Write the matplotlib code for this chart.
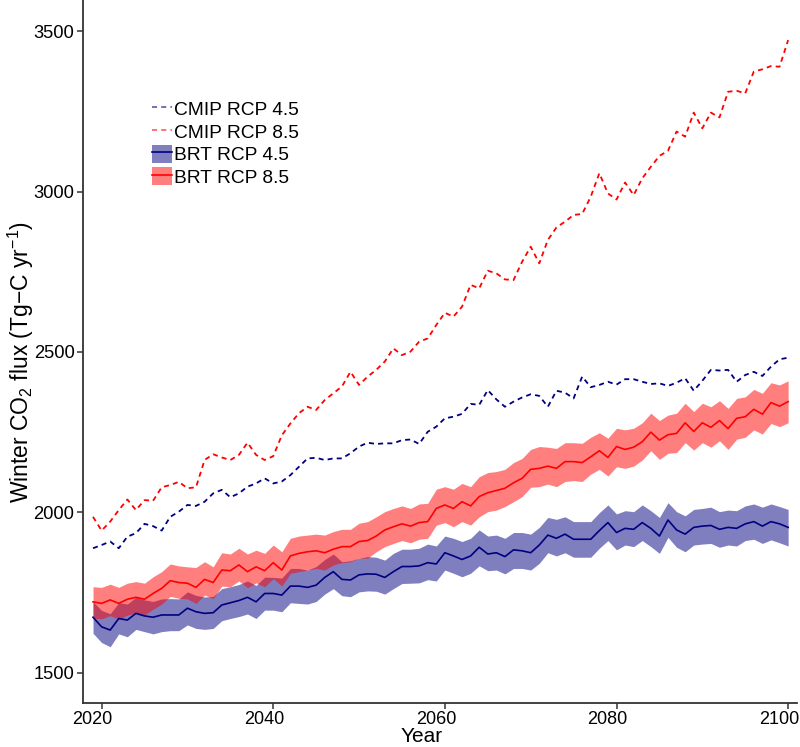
import matplotlib
matplotlib.use("Agg")
import matplotlib.pyplot as plt
from matplotlib.lines import Line2D
from matplotlib.patches import Patch
from matplotlib.transforms import ScaledTranslation

plt.rcParams.update({
    "font.family": ["Liberation Sans", "DejaVu Sans"],
    "mathtext.default": "regular",
    "axes.edgecolor": "#333333",
    "xtick.color": "#333333",
    "ytick.color": "#333333",
    "xtick.labelcolor": "black",
    "ytick.labelcolor": "black",
})

years = list(range(2019, 2101))
x_ticks = [2020, 2040, 2060, 2080, 2100]
y_ticks = [1500, 2000, 2500, 3000, 3500]

# CMIP projections (dashed)
cmip_45 = [1888, 1898, 1909, 1888, 1924, 1935, 1964, 1957, 1943, 1986,
           2002, 2023, 2020, 2033, 2059, 2070, 2047, 2059, 2080, 2090,
           2106, 2090, 2096, 2116, 2142, 2168, 2170, 2163, 2168, 2168,
           2184, 2205, 2217, 2213, 2215, 2215, 2225, 2227, 2213, 2251,
           2267, 2293, 2298, 2307, 2338, 2335, 2381, 2352, 2329, 2345,
           2358, 2368, 2363, 2329, 2379, 2373, 2355, 2423, 2390, 2397,
           2407, 2398, 2415, 2415, 2407, 2400, 2402, 2394, 2404, 2418,
           2379, 2410, 2444, 2442, 2444, 2407, 2428, 2438, 2425, 2454,
           2477, 2482]
cmip_85 = [1986, 1943, 1971, 2007, 2040, 2007, 2038, 2036, 2078, 2085,
           2095, 2075, 2078, 2163, 2181, 2171, 2163, 2179, 2217, 2179,
           2163, 2175, 2240, 2277, 2309, 2329, 2319, 2350, 2371, 2392,
           2438, 2397, 2423, 2444, 2470, 2511, 2490, 2501, 2532, 2542,
           2584, 2622, 2610, 2641, 2709, 2698, 2753, 2745, 2726, 2724,
           2781, 2828, 2776, 2849, 2888, 2906, 2927, 2930, 2984, 3057,
           2994, 2975, 3028, 2989, 3041, 3077, 3111, 3127, 3187, 3171,
           3246, 3197, 3246, 3231, 3311, 3314, 3306, 3374, 3381, 3391,
           3389, 3472]

# BRT projections: mean and ribbon
brt_45 = [1673, 1643, 1633, 1669, 1664, 1685, 1677, 1673, 1680, 1680,
          1680, 1701, 1690, 1685, 1687, 1711, 1718, 1725, 1735, 1721,
          1747, 1747, 1742, 1770, 1770, 1766, 1773, 1797, 1815, 1791,
          1789, 1805, 1808, 1807, 1797, 1815, 1831, 1831, 1833, 1843,
          1839, 1874, 1864, 1853, 1864, 1891, 1870, 1874, 1862, 1883,
          1880, 1874, 1898, 1929, 1919, 1932, 1916, 1916, 1916, 1943,
          1968, 1937, 1950, 1947, 1968, 1950, 1926, 1976, 1945, 1932,
          1953, 1957, 1959, 1947, 1953, 1950, 1964, 1971, 1957, 1971,
          1964, 1953]
brt_45_hi = [1722, 1694, 1684, 1718, 1714, 1735, 1727, 1722, 1730, 1731,
             1730, 1752, 1741, 1736, 1738, 1762, 1768, 1775, 1786, 1772,
             1798, 1797, 1795, 1825, 1825, 1820, 1831, 1853, 1870, 1846,
             1849, 1857, 1862, 1860, 1851, 1872, 1885, 1885, 1888, 1901,
             1895, 1926, 1919, 1909, 1919, 1945, 1926, 1929, 1919, 1937,
             1937, 1932, 1953, 1984, 1978, 1986, 1971, 1971, 1971, 1999,
             2023, 1995, 2005, 2002, 2023, 2005, 1984, 2030, 2002, 1989,
             2009, 2012, 2016, 2002, 2007, 2005, 2020, 2026, 2016, 2026,
             2018, 2009]
brt_45_lo = [1623, 1594, 1581, 1621, 1612, 1635, 1628, 1621, 1628, 1631,
             1631, 1649, 1638, 1635, 1638, 1662, 1669, 1675, 1683, 1669,
             1695, 1695, 1690, 1718, 1716, 1714, 1722, 1745, 1762, 1740,
             1737, 1752, 1755, 1754, 1745, 1762, 1778, 1779, 1780, 1790,
             1786, 1820, 1810, 1799, 1810, 1833, 1818, 1820, 1808, 1825,
             1825, 1820, 1841, 1874, 1864, 1874, 1860, 1860, 1860, 1888,
             1912, 1883, 1898, 1893, 1912, 1893, 1872, 1922, 1891, 1877,
             1898, 1901, 1903, 1891, 1898, 1895, 1912, 1916, 1903, 1914,
             1905, 1895]

brt_85 = [1721, 1716, 1727, 1716, 1729, 1735, 1729, 1747, 1763, 1787,
          1781, 1779, 1766, 1791, 1781, 1820, 1818, 1836, 1815, 1830,
          1818, 1843, 1820, 1864, 1872, 1877, 1880, 1874, 1885, 1893,
          1893, 1909, 1912, 1926, 1945, 1955, 1964, 1957, 1968, 1971,
          2012, 2023, 2012, 2033, 2020, 2049, 2061, 2068, 2075, 2092,
          2106, 2134, 2137, 2144, 2137, 2158, 2158, 2155, 2173, 2192,
          2171, 2205, 2196, 2203, 2220, 2250, 2225, 2242, 2246, 2279,
          2252, 2279, 2265, 2286, 2261, 2293, 2298, 2321, 2306, 2342,
          2331, 2345]
brt_85_hi = [1768, 1766, 1776, 1766, 1779, 1784, 1779, 1799, 1815, 1839,
             1833, 1830, 1828, 1846, 1830, 1874, 1870, 1888, 1870, 1882,
             1872, 1898, 1877, 1919, 1926, 1929, 1932, 1929, 1940, 1947,
             1947, 1966, 1971, 1986, 2002, 2012, 2020, 2012, 2026, 2028,
             2072, 2080, 2072, 2090, 2080, 2111, 2124, 2127, 2134, 2155,
             2168, 2196, 2205, 2203, 2199, 2217, 2217, 2215, 2234, 2248,
             2231, 2262, 2257, 2262, 2279, 2309, 2286, 2303, 2309, 2340,
             2314, 2340, 2329, 2348, 2324, 2355, 2360, 2383, 2371, 2404,
             2397, 2410]
brt_85_lo = [1670, 1668, 1678, 1667, 1680, 1686, 1680, 1698, 1714, 1738,
             1732, 1730, 1716, 1742, 1731, 1770, 1768, 1786, 1765, 1780,
             1768, 1793, 1770, 1810, 1815, 1820, 1825, 1820, 1836, 1843,
             1846, 1857, 1857, 1877, 1893, 1903, 1912, 1905, 1916, 1919,
             1960, 1968, 1955, 1971, 1960, 1986, 2002, 2007, 2018, 2033,
             2049, 2078, 2080, 2088, 2080, 2096, 2099, 2096, 2119, 2134,
             2113, 2142, 2137, 2144, 2163, 2192, 2165, 2184, 2186, 2217,
             2194, 2217, 2203, 2223, 2196, 2228, 2234, 2257, 2244, 2277,
             2267, 2279]

blue = "#000080"
red = "#FF0000"

fig = plt.figure(figsize=(8.0, 7.47), dpi=100)
ax = fig.add_axes([0.1034, 0.0593, 0.8925, 0.9407])

ax.fill_between(years, brt_45_lo, brt_45_hi, color=blue, alpha=0.5, linewidth=0)
ax.fill_between(years, brt_85_lo, brt_85_hi, color=red, alpha=0.5, linewidth=0)
ax.plot(years, brt_45, color=blue, linewidth=1.2)
ax.plot(years, brt_85, color=red, linewidth=1.2)

dash = (0, (2.8, 2.3))
ax.plot(years, cmip_45, color=blue, linewidth=1.3, linestyle=dash)
ax.plot(years, cmip_85, color=red, linewidth=1.3, linestyle=dash)

ax.set_xlim(2017.8, 2101.0)
ax.set_ylim(1406.5, 3597)
ax.set_xticks(x_ticks)
ax.set_yticks(y_ticks)
ax.tick_params(direction="out", length=4, width=1.1, labelsize=13.2)
ax.tick_params(axis="y", pad=2)

# x tick labels sit a little left of their ticks in the original,
# so draw them by hand with a small offset
ax.tick_params(axis="x", labelbottom=False)
shift = ScaledTranslation(-9 / 100, -8 / 100, fig.dpi_scale_trans)
for xv in x_ticks:
    ax.text(xv, 0, str(xv), transform=ax.get_xaxis_transform() + shift,
            ha="center", va="top", fontsize=13, color="black")

ax.spines["top"].set_visible(False)
ax.spines["right"].set_visible(False)
ax.spines["left"].set_linewidth(1.3)
ax.spines["bottom"].set_linewidth(1.3)

ax.set_xlabel("Year", fontsize=15)
ax.xaxis.set_label_coords(0.4745, -0.0562)
ax.xaxis.label.set_va("baseline")
ax.set_ylabel("Winter CO$_2$ flux (Tg\u2212C yr$^{-1}$)", fontsize=16.5)
ax.yaxis.set_label_coords(-0.066, 0.485)

handles = [
    Line2D([], [], color=blue, linewidth=1.3, linestyle=dash, alpha=0.6),
    Line2D([], [], color=red, linewidth=1.3, linestyle=dash, alpha=0.6),
    (Patch(facecolor=blue, alpha=0.5, linewidth=0), Line2D([], [], color=blue, linewidth=1.2)),
    (Patch(facecolor=red, alpha=0.5, linewidth=0), Line2D([], [], color=red, linewidth=1.2)),
]
labels = ["CMIP RCP 4.5", "CMIP RCP 8.5", "BRT RCP 4.5", "BRT RCP 8.5"]
ax.legend(handles, labels, loc="upper left", bbox_to_anchor=(0.097, 0.858),
          frameon=False, fontsize=13.8, handlelength=1.05, handleheight=1.05,
          handletextpad=0.12, labelspacing=0.16, borderpad=0, borderaxespad=0)

fig.savefig("out.png", dpi=100, facecolor="white")
